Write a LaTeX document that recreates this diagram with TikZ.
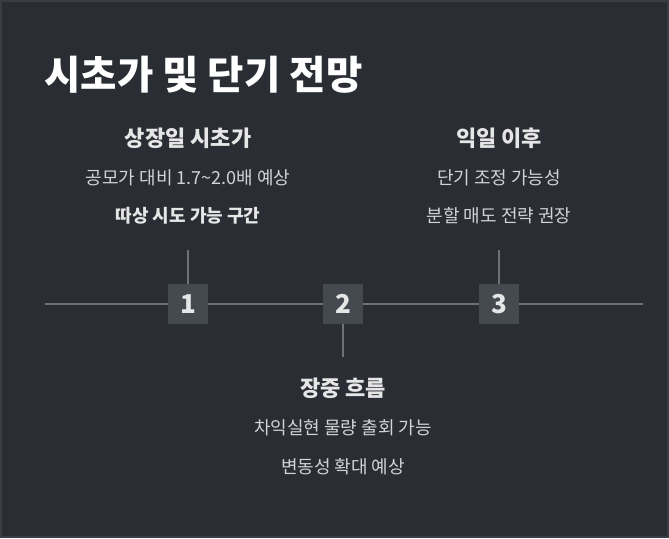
\documentclass[tikz,border=0pt]{standalone}
\usepackage{fontspec}
\setmainfont{Noto Sans CJK KR}
\definecolor{bg}{HTML}{2A2D33}
\definecolor{frame}{HTML}{3A3D44}
\definecolor{axis}{HTML}{6E7177}
\definecolor{boxc}{HTML}{454950}
\definecolor{txt}{HTML}{E6E6E6}
\definecolor{sub}{HTML}{D2D3D5}
\tikzset{x=1pt,y=-1pt,
 head/.style={text=txt,font=\fontsize{22}{26}\selectfont\bfseries},
 body/.style={text=sub,font=\fontsize{18}{22}\selectfont},
 bodyb/.style={text=txt,font=\fontsize{18}{22}\selectfont\bfseries},
 numbox/.style={fill=boxc,minimum size=40pt,inner sep=0pt,text=txt,font=\fontsize{26}{30}\selectfont\bfseries},
 ln/.style={draw=axis,line width=1.3pt}}
\begin{document}
\begin{tikzpicture}
\useasboundingbox (0,0) rectangle (669,538);
\path[fill=bg,draw=frame,line width=2pt] (1,1) rectangle (668,537);
\node[anchor=west,text=white,font=\fontsize{39.5}{44}\selectfont\bfseries] (title) at (41,75) {시초가 및 단기 전망};
\coordinate (L) at (45,304); \coordinate (R) at (643,304);
\draw[ln] (L) -- (R);
\coordinate (t1) at (188,250); \coordinate (t3) at (499,250); \coordinate (t2) at (343,357);
\node[numbox] (n1) at (188,304) {1};
\node[numbox] (n2) at (343,304) {2};
\node[numbox] (n3) at (499,304) {3};
\draw[ln] (t1) -- (n1.north);
\draw[ln] (t3) -- (n3.north);
\draw[ln] (t2) -- (n2.south);
\node[head] (a1) at (188,138) {상장일 시초가};
\node[body] (a2) at (188,178) {공모가 대비 1.7\textasciitilde2.0배 예상};
\node[bodyb] (a3) at (188,216) {따상 시도 가능 구간};
\node[head] (c1) at (499,138) {익일 이후};
\node[body] (c2) at (499,178) {단기 조정 가능성};
\node[body] (c3) at (499,216) {분할 매도 전략 권장};
\node[head] (b1) at (343,388) {장중 흐름};
\node[body] (b2) at (343,428) {차익실현 물량 출회 가능};
\node[body] (b3) at (343,467) {변동성 확대 예상};
\end{tikzpicture}
\end{document}
